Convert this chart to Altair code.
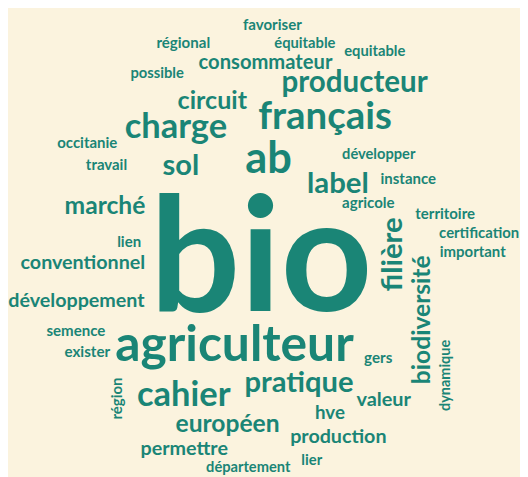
import altair as alt
import pandas as pd

words = ["bio", "agriculteur", "ab", "français", "producteur", "charge", "cahier",
         "circuit", "consommateur", "favoriser", "régional", "équitable", "equitable",
         "possible", "occitanie", "travail", "sol", "marché", "lien", "conventionnel",
         "développement", "semence", "exister", "région", "européen", "permettre",
         "département", "pratique", "hve", "production", "lier", "gers", "valeur",
         "filière", "biodiversité", "dynamique", "important", "certification",
         "territoire", "agricole", "instance", "label", "développer"]

weights = [162, 50.5, 44, 39, 30, 35, 35,
           25.5, 20.5, 15.3, 15.3, 15, 15,
           15, 15.2, 15.2, 29.5, 25, 15.2, 20,
           20, 15.3, 15.4, 15.2, 25, 20,
           14.9, 29.6, 19, 20, 15, 15.4, 20.2,
           29.6, 25, 14.7, 15.2, 15.1,
           15.2, 15.3, 15.2, 29.8, 14.9]

x_pos = [265, 238, 272.5, 330, 360, 178.5, 186.5,
         215.5, 269.5, 276.5, 186, 309.5, 380.5,
         159.5, 88.5, 108, 183.5, 106.5, 131, 84,
         77.5, 77, 88.5, 124, 231, 187,
         252, 303.5, 335, 343.5, 316.5, 384, 389.5,
         408, 437, 456.5, 480, 486.5,
         452, 374, 414.5, 343, 384.5]

y_pos = [312, 363, 172, 127, 90, 136, 408.5,
         107, 66, 27, 45, 45, 53,
         75, 147, 169, 174, 214, 247, 269,
         308, 337, 359, 401, 435, 458,
         476, 394, 422, 446, 468, 364.5, 409,
         254.5, 321, 377.5, 257, 238,
         218.5, 207, 183, 192, 158]

angles = [0] * len(words)
for w in ["région", "filière", "biodiversité", "dynamique"]:
    angles[words.index(w)] = 270

df = pd.DataFrame({"word": words, "weight": weights, "x": x_pos, "y": y_pos, "angle": angles})

chart = alt.Chart(df).mark_text(
    font="Lato", fontWeight="bold", baseline="alphabetic", align="center", color="#1a8576"
).encode(
    x=alt.X("x:Q", scale=alt.Scale(domain=[8, 528], range=[0, 520], nice=False, zero=False), axis=None),
    y=alt.Y("y:Q", scale=alt.Scale(domain=[8, 477], range=[0, 469], nice=False, zero=False), axis=None),
    text="word:N",
    size=alt.Size("weight:Q", scale=None, legend=None),
    angle=alt.Angle("angle:Q", scale=None),
).properties(
    width=520, height=469, padding=0, autosize="none", background="#fbf3de"
).configure_view(stroke=None)

chart.save("out.html", embed_options={"renderer": "svg", "actions": False})
